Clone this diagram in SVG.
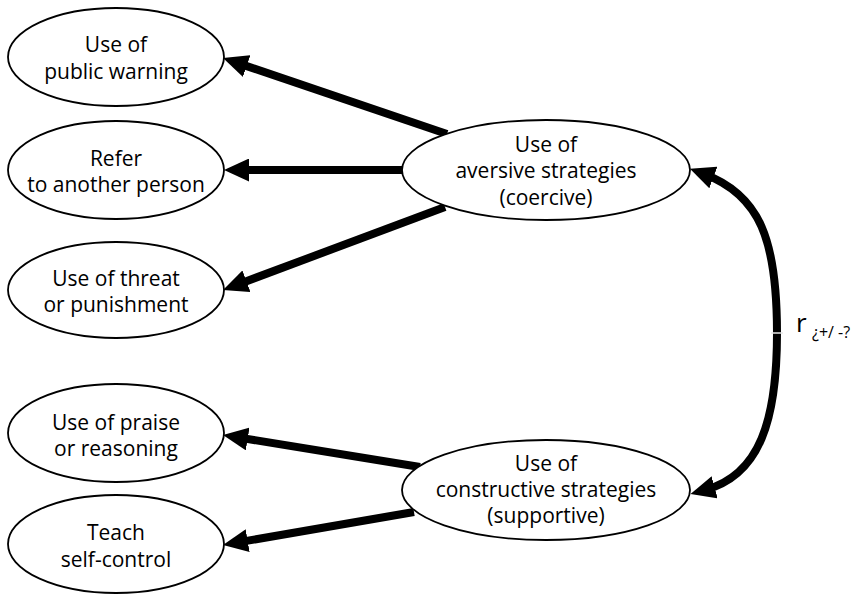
<svg xmlns="http://www.w3.org/2000/svg" width="859" height="596" viewBox="0 0 859 596">
<style>
.node ellipse{fill:#fff;stroke:#000;stroke-width:1.8}
.node text{font-family:"Open Sans",Lato,sans-serif;font-size:21px;fill:#000;text-anchor:middle}
.conn{stroke:#000;stroke-width:8;fill:none;marker-end:url(#ah)}
.lbl{font-family:"Open Sans",Lato,sans-serif;fill:#000}
</style>
<defs>
<marker id="ah" viewBox="0 0 25 23" refX="10" refY="11.5" markerWidth="25" markerHeight="23" markerUnits="userSpaceOnUse" orient="auto-start-reverse">
<path d="M0,0 L25,11.5 L0,23 z" fill="#000"/>
</marker>
</defs>
<rect width="859" height="596" fill="#fff"/>
<g id="connectors">
<line class="conn" x1="447" y1="134" x2="237.2" y2="62.9"/>
<line class="conn" x1="403" y1="170" x2="239" y2="170"/>
<line class="conn" x1="445" y1="207" x2="237.1" y2="284.7"/>
<line class="conn" x1="420" y1="467" x2="237.8" y2="437.4"/>
<line class="conn" x1="414" y1="512" x2="237.8" y2="542.4"/>
<path class="conn" style="marker-start:url(#ah)" d="M704,174 C760,195 777,240 777,333 C777,420 760,475 705,490"/>
<line x1="771" y1="333" x2="783" y2="333" stroke="#e6e6e6" stroke-width="1.5"/>
</g>
<g id="n-public" class="node">
<ellipse cx="116" cy="57" rx="108" ry="49"/>
<text x="116" y="52">Use of</text>
<text x="116" y="79">public warning</text>
</g>
<g id="n-refer" class="node">
<ellipse cx="116" cy="170" rx="108" ry="49"/>
<text x="116" y="166">Refer</text>
<text x="116" y="192">to another person</text>
</g>
<g id="n-threat" class="node">
<ellipse cx="116" cy="290" rx="108" ry="48"/>
<text x="116" y="286">Use of threat</text>
<text x="116" y="312">or punishment</text>
</g>
<g id="n-praise" class="node">
<ellipse cx="116" cy="433" rx="108" ry="49"/>
<text x="116" y="430">Use of praise</text>
<text x="116" y="456">or reasoning</text>
</g>
<g id="n-teach" class="node">
<ellipse cx="116" cy="544" rx="108" ry="49"/>
<text x="116" y="540">Teach</text>
<text x="116" y="567">self-control</text>
</g>
<g id="n-aversive" class="node">
<ellipse cx="546" cy="170" rx="144" ry="50"/>
<text x="546" y="152">Use of</text>
<text x="546" y="178">aversive strategies</text>
<text x="546" y="205">(coercive)</text>
</g>
<g id="n-constructive" class="node">
<ellipse cx="546" cy="490" rx="144" ry="50"/>
<text x="546" y="471">Use of</text>
<text x="546" y="497">constructive strategies</text>
<text x="546" y="523">(supportive)</text>
</g>
<g id="label-r">
<text class="lbl" x="796" y="332" font-size="26">r</text>
<text class="lbl" x="812" y="338" font-size="16">¿+/ -?</text>
</g>
</svg>
